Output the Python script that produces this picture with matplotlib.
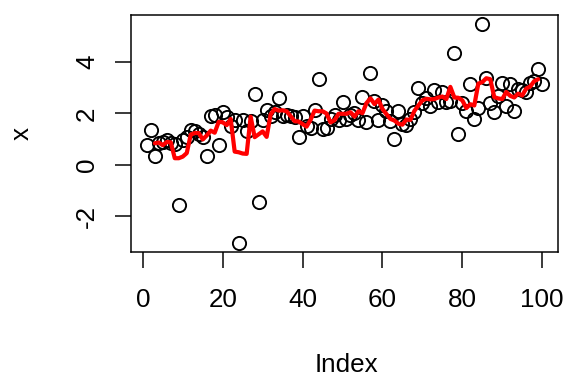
import numpy as np
import pandas as pd
import matplotlib
matplotlib.use("Agg")
import matplotlib.pyplot as plt

plt.rcParams['font.family'] = ['Liberation Sans', 'DejaVu Sans']

# observed values (index 1..100)
values = [
    0.78, 1.37, 0.35, 0.85, 0.90, 0.95, 0.85, 0.80, -1.58, 0.95,
    1.10, 1.35, 1.30, 1.20, 1.10, 0.35, 1.92, 1.95, 0.78, 2.05,
    1.85, 1.50, 1.75, -3.05, 1.75, 1.30, 1.70, 2.75, -1.45, 1.75,
    2.15, 1.90, 2.05, 2.60, 1.90, 1.95, 1.90, 1.85, 1.10, 1.90,
    1.50, 1.45, 2.15, 3.35, 1.40, 1.45, 1.80, 1.95, 1.75, 2.45,
    1.80, 1.95, 2.00, 1.75, 2.65, 1.65, 3.57, 2.50, 1.75, 2.35,
    2.10, 1.70, 1.00, 2.10, 1.60, 1.55, 1.80, 2.05, 3.00, 2.40,
    2.60, 2.30, 2.90, 2.45, 2.85, 2.45, 2.50, 4.35, 1.20, 2.40,
    2.10, 3.15, 1.80, 2.20, 5.50, 3.40, 2.40, 2.05, 2.70, 3.20,
    2.30, 3.15, 2.10, 2.95, 2.90, 2.85, 3.20, 3.25, 3.75, 3.15,
]
index = list(range(1, len(values) + 1))
x_ticks = [0, 20, 40, 60, 80, 100]
y_ticks = [-2, 0, 2, 4]
x_label = "Index"
y_label = "x"

# 4-point moving average (R filter(x, rep(1/4, 4)), sides = 2)
s = pd.Series(values)
ma = s.rolling(4).mean().shift(-1)

W, H = 576, 384
fig = plt.figure(figsize=(W / 144, H / 144), dpi=144)
ax = fig.add_axes([131 / W, 1 - 251.7 / H, (558 - 131) / W, (251.7 - 15) / H])

ax.plot(index, values, linestyle='none', marker='o', markersize=6.6,
        markerfacecolor='none', markeredgecolor='black', markeredgewidth=0.95)
ax.plot(index, ma, color='#ff0000', linewidth=2.1, solid_capstyle='round',
        solid_joinstyle='round')

xr = max(index) - min(index)
ax.set_xlim(min(index) - 0.04 * xr, max(index) + 0.04 * xr)
yr = max(values) - min(values)
ax.set_ylim(min(values) - 0.04 * yr, max(values) + 0.04 * yr)

ax.set_xticks(x_ticks)
ax.set_yticks(y_ticks)
ax.set_xticklabels([str(t) for t in x_ticks])
ax.set_yticklabels([str(t) for t in y_ticks], rotation=90, va='center')
ax.tick_params(direction='out', length=8, width=0.75, labelsize=13, color='black')
ax.tick_params(axis='x', pad=10)
ax.tick_params(axis='y', pad=8)
for sp in ax.spines.values():
    sp.set_linewidth(0.75)
    sp.set_color('black')

fig.text(346 / W, 1 - 365 / H, x_label, ha='center', va='center', fontsize=13)
fig.text(22 / W, 1 - 133 / H, y_label, ha='center', va='center', fontsize=13,
         rotation=90)

fig.savefig("out.png", dpi=144)
